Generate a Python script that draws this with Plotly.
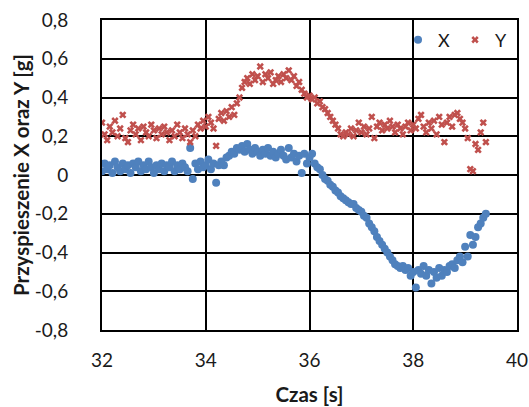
import plotly.graph_objects as go

# time samples [s]
time_s = [
    32.00, 32.05, 32.10, 32.15, 32.20, 32.25, 32.30, 32.35, 32.40, 32.45,
    32.50, 32.55, 32.60, 32.65, 32.70, 32.75, 32.80, 32.85, 32.90, 32.95,
    33.00, 33.05, 33.10, 33.15, 33.20, 33.25, 33.30, 33.35, 33.40, 33.45,
    33.50, 33.55, 33.60, 33.65, 33.70, 33.75, 33.80, 33.85, 33.90, 33.95,
    34.00, 34.05, 34.10, 34.15, 34.20, 34.25, 34.30, 34.35, 34.40, 34.45,
    34.50, 34.55, 34.60, 34.65, 34.70, 34.75, 34.80, 34.85, 34.90, 34.95,
    35.00, 35.05, 35.10, 35.15, 35.20, 35.25, 35.30, 35.35, 35.40, 35.45,
    35.50, 35.55, 35.60, 35.65, 35.70, 35.75, 35.80, 35.85, 35.90, 35.95,
    36.00, 36.05, 36.10, 36.15, 36.20, 36.25, 36.30, 36.35, 36.40, 36.45,
    36.50, 36.55, 36.60, 36.65, 36.70, 36.75, 36.80, 36.85, 36.90, 36.95,
    37.00, 37.05, 37.10, 37.15, 37.20, 37.25, 37.30, 37.35, 37.40, 37.45,
    37.50, 37.55, 37.60, 37.65, 37.70, 37.75, 37.80, 37.85, 37.90, 37.95,
    38.00, 38.05, 38.10, 38.15, 38.20, 38.25, 38.30, 38.35, 38.40, 38.45,
    38.50, 38.55, 38.60, 38.65, 38.70, 38.75, 38.80, 38.85, 38.90, 38.95,
    39.00, 39.05, 39.10, 39.15, 39.20, 39.25, 39.30, 39.35, 39.40,
]

# acceleration X [g]
accel_x = [
    0.02, 0.06, 0.03, 0.05, 0.01, 0.07, 0.04, 0.02, 0.06, 0.03,
    0.05, 0.01, 0.06, 0.04, 0.07, 0.02, 0.05, 0.03, 0.07, 0.04,
    0.01, 0.05, 0.03, 0.06, 0.02, 0.05, 0.04, 0.07, 0.02, 0.05,
    0.03, 0.06, 0.04, 0.02, 0.14, -0.02, 0.06, 0.03, 0.07, 0.04,
    0.05, 0.08, 0.03, 0.06, -0.04, 0.05, 0.07, 0.05, 0.09, 0.10,
    0.12, 0.11, 0.14, 0.13, 0.15, 0.12, 0.16, 0.13, 0.11, 0.14,
    0.12, 0.10, 0.13, 0.11, 0.14, 0.10, 0.12, 0.09, 0.11, 0.13,
    0.10, 0.08, 0.14, 0.09, 0.11, 0.07, 0.10, 0.01, 0.11, 0.06,
    0.09, 0.11, 0.06, 0.04, 0.03, 0.00, -0.02, -0.03, -0.05, -0.06,
    -0.08, -0.09, -0.11, -0.12, -0.13, -0.14, -0.15, -0.15, -0.17, -0.18,
    -0.19, -0.21, -0.22, -0.25, -0.27, -0.29, -0.32, -0.34, -0.36, -0.38,
    -0.40, -0.42, -0.44, -0.46, -0.47, -0.48, -0.47, -0.49, -0.48, -0.52,
    -0.50, -0.58, -0.49, -0.51, -0.47, -0.52, -0.49, -0.56, -0.50, -0.53,
    -0.48, -0.52, -0.49, -0.50, -0.47, -0.46, -0.48, -0.44, -0.42, -0.45,
    -0.37, -0.42, -0.31, -0.36, -0.32, -0.27, -0.25, -0.22, -0.20,
]

# acceleration Y [g]
accel_y = [
    0.27, 0.21, 0.18, 0.25, 0.22, 0.28, 0.20, 0.24, 0.31, 0.19,
    0.17, 0.23, 0.26, 0.21, 0.24, 0.18, 0.25, 0.22, 0.20, 0.26,
    0.23, 0.19, 0.24, 0.21, 0.25, 0.22, 0.18, 0.23, 0.20, 0.26,
    0.22, 0.19, 0.24, 0.21, 0.17, 0.23, 0.20, 0.26, 0.24, 0.28,
    0.25, 0.30, 0.27, 0.24, 0.15, 0.29, 0.32, 0.28, 0.33, 0.30,
    0.35, 0.31, 0.37, 0.40, 0.45, 0.48, 0.50, 0.47, 0.52, 0.49,
    0.51, 0.56, 0.48, 0.52, 0.50, 0.53, 0.47, 0.49, 0.51, 0.48,
    0.52, 0.50, 0.54, 0.49, 0.51, 0.46, 0.48, 0.44, 0.42, 0.40,
    0.41, 0.39, 0.40, 0.37, 0.38, 0.35, 0.34, 0.32, 0.30, 0.28,
    0.26, 0.24, 0.21, 0.20, 0.22, 0.21, 0.24, 0.20, 0.23, 0.27,
    0.22, 0.25, 0.21, 0.24, 0.30, 0.19, 0.25, 0.27, 0.23, 0.26,
    0.24, 0.28, 0.25, 0.22, 0.26, 0.24, 0.21, 0.25, 0.27, 0.23,
    0.26, 0.24, 0.29, 0.31, 0.25, 0.22, 0.27, 0.24, 0.28, 0.21,
    0.30, 0.26, 0.17, 0.27, 0.30, 0.25, 0.31, 0.32, 0.29, 0.27,
    0.24, 0.19, 0.03, 0.02, 0.16, 0.13, 0.22, 0.27, 0.17,
]

x_tickvals = [32, 34, 36, 38, 40]
x_ticktext = ["32", "34", "36", "38", "40"]
y_tickvals = [-0.8, -0.6, -0.4, -0.2, 0, 0.2, 0.4, 0.6, 0.8]
y_ticktext = ["-0,8", "-0,6", "-0,4", "-0,2", "0", "0,2", "0,4", "0,6", "0,8"]

FONT = "Lato, 'Open Sans', sans-serif"
TXT = "#1a1a1a"

fig = go.Figure()
fig.add_trace(go.Scatter(
    x=time_s, y=accel_x, mode="markers", name="X",
    marker=dict(symbol="circle", size=8, color="#4F81BD"),
))
fig.add_trace(go.Scatter(
    x=time_s, y=accel_y, mode="markers", name="Y",
    marker=dict(symbol="x", size=6.5, color="#C0504D"),
))

axis_common = dict(
    showgrid=True, gridcolor="black", gridwidth=2,
    showline=True, linecolor="black", linewidth=2, mirror=True,
    zeroline=False, automargin=False,
    ticks="outside", tickcolor="rgba(0,0,0,0)",
    tickfont=dict(family=FONT, size=19, color=TXT),
)

fig.update_layout(
    width=529, height=407,
    margin=dict(l=102, r=12, t=20, b=77),
    paper_bgcolor="white", plot_bgcolor="white",
    showlegend=True,
    legend=dict(
        orientation="h", x=0.988, xanchor="right", y=0.995, yanchor="top",
        bgcolor="rgba(0,0,0,0)", font=dict(family=FONT, size=18, color=TXT),
        itemwidth=30, entrywidth=12, entrywidthmode="pixels", tracegroupgap=0,
    ),
    xaxis=dict(
        range=[32, 40], tickvals=x_tickvals, ticktext=x_ticktext, ticklen=12,
        title=dict(text="<b>Czas [s]</b>", font=dict(family=FONT, size=20.5, color=TXT), standoff=18),
        **axis_common,
    ),
    yaxis=dict(
        range=[-0.8, 0.8], tickvals=y_tickvals, ticktext=y_ticktext, ticklen=28,
        title=dict(text="<b>Przyspieszenie X oraz Y [g]</b>", font=dict(family=FONT, size=20.5, color=TXT), standoff=0),
        **axis_common,
    ),
)

fig.write_html(
    "out.html",
    config={"displayModeBar": False},
    post_script="document.body.style.margin='0';document.documentElement.style.overflow='hidden';",
)
